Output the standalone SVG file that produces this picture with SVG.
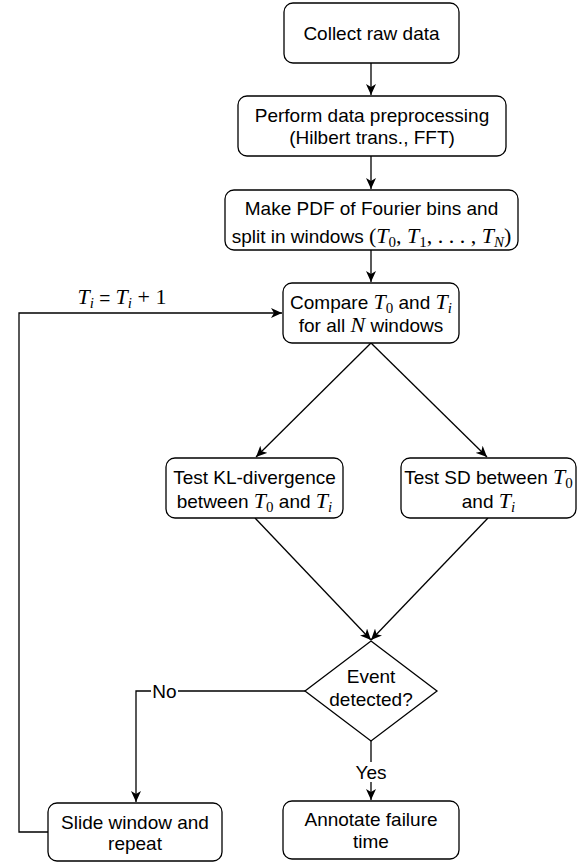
<svg xmlns="http://www.w3.org/2000/svg" width="584" height="863" viewBox="0 0 584 863">
<defs>
<style>
.box{fill:#fff;stroke:#000;stroke-width:1.3}
.ln{fill:none;stroke:#000;stroke-width:1.3}
.t{font-family:"Liberation Sans",Arial,sans-serif;font-size:19px;fill:#000}
.m{font-family:"Liberation Serif","Times New Roman",serif;font-style:italic;font-size:22px}
.mu{font-family:"Liberation Serif","Times New Roman",serif;font-style:normal;font-size:22px}
.s{font-family:"Liberation Serif","Times New Roman",serif;font-style:normal;font-size:15px}
.si{font-family:"Liberation Serif","Times New Roman",serif;font-style:italic;font-size:15px}
.lbl{fill:#fff;stroke:none}
</style>
<marker id="arr" markerUnits="userSpaceOnUse" markerWidth="12" markerHeight="10" viewBox="0 0 12 10" refX="11" refY="5" orient="auto">
<path d="M0,0 L11,5 L0,10 L3,5 Z" fill="#000"/>
</marker>
</defs>
<rect width="584" height="863" fill="#fff"/>

<g id="connectors">
<path class="ln" d="M371,63 L371,95" marker-end="url(#arr)"/>
<path class="ln" d="M371,156 L371,189" marker-end="url(#arr)"/>
<path class="ln" d="M371,250 L371,282" marker-end="url(#arr)"/>
<path class="ln" d="M371,343 L256,457" marker-end="url(#arr)"/>
<path class="ln" d="M371,343 L487,457" marker-end="url(#arr)"/>
<path class="ln" d="M255,518 L371,640" marker-end="url(#arr)"/>
<path class="ln" d="M488,518 L371,640" marker-end="url(#arr)"/>
<path class="ln" d="M305,691 L136,691 L136,802" marker-end="url(#arr)"/>
<path class="ln" d="M371,741 L371,800" marker-end="url(#arr)"/>
<path class="ln" d="M48,832 L19,832 L19,313 L282,313" marker-end="url(#arr)"/>
<rect class="lbl" x="151" y="681" width="27" height="20"/>
<text class="t" x="164.5" y="697.5" text-anchor="middle">No</text>
<rect class="lbl" x="353" y="762" width="36" height="20"/>
<text class="t" x="371" y="778.5" text-anchor="middle">Yes</text>
<text class="t" x="122" y="304" text-anchor="middle"><tspan class="m">T</tspan><tspan class="si" dy="4">i</tspan><tspan dy="-4"> = </tspan><tspan class="m">T</tspan><tspan class="si" dy="4">i</tspan><tspan class="mu" dy="-4"> + 1</tspan></text>
</g>

<g id="collect">
<rect class="box" x="284" y="3" width="175" height="60" rx="9"/>
<text class="t" x="371.5" y="39.5" text-anchor="middle">Collect raw data</text>
</g>

<g id="preprocess">
<rect class="box" x="238" y="96" width="268" height="60" rx="9"/>
<text class="t" x="372" y="121.5" text-anchor="middle">Perform data preprocessing</text>
<text class="t" x="372" y="143.5" text-anchor="middle">(Hilbert trans., FFT)</text>
</g>

<g id="pdf">
<rect class="box" x="225" y="190" width="293" height="60" rx="9"/>
<text class="t" x="371.5" y="214.5" text-anchor="middle">Make PDF of Fourier bins and</text>
<text class="t" x="371.5" y="243" text-anchor="middle">split in windows <tspan class="mu">(</tspan><tspan class="m">T</tspan><tspan class="s" dy="4">0</tspan><tspan class="mu" dy="-4">, </tspan><tspan class="m">T</tspan><tspan class="s" dy="4">1</tspan><tspan class="mu" dy="-4">, . . . , </tspan><tspan class="m">T</tspan><tspan class="si" dy="4">N</tspan><tspan class="mu" dy="-4">)</tspan></text>
</g>

<g id="compare">
<rect class="box" x="283" y="283" width="176" height="60" rx="9"/>
<text class="t" x="371" y="309" text-anchor="middle">Compare <tspan class="m">T</tspan><tspan class="s" dy="4">0</tspan><tspan dy="-4"> and </tspan><tspan class="m">T</tspan><tspan class="si" dy="4">i</tspan></text>
<text class="t" x="371" y="332" text-anchor="middle">for all <tspan class="m">N</tspan> windows</text>
</g>

<g id="kl">
<rect class="box" x="166" y="458" width="177" height="60" rx="9"/>
<text class="t" x="254.5" y="484" text-anchor="middle">Test KL-divergence</text>
<text class="t" x="254.5" y="508" text-anchor="middle">between <tspan class="m">T</tspan><tspan class="s" dy="4">0</tspan><tspan dy="-4"> and </tspan><tspan class="m">T</tspan><tspan class="si" dy="4">i</tspan></text>
</g>

<g id="sd">
<rect class="box" x="401" y="458" width="175" height="60" rx="9"/>
<text class="t" x="488.5" y="484" text-anchor="middle">Test SD between <tspan class="m">T</tspan><tspan class="s" dy="4">0</tspan></text>
<text class="t" x="488.5" y="508" text-anchor="middle">and <tspan class="m">T</tspan><tspan class="si" dy="4">i</tspan></text>
</g>

<g id="decision">
<path class="box" d="M371,641 L437,691 L371,741 L305,691 Z"/>
<text class="t" x="371" y="682.5" text-anchor="middle">Event</text>
<text class="t" x="371" y="705.5" text-anchor="middle">detected?</text>
</g>

<g id="slide">
<rect class="box" x="48" y="803" width="174" height="58" rx="9"/>
<text class="t" x="135" y="828.5" text-anchor="middle">Slide window and</text>
<text class="t" x="135" y="850" text-anchor="middle">repeat</text>
</g>

<g id="annotate">
<rect class="box" x="283" y="801" width="176" height="58" rx="9"/>
<text class="t" x="371" y="825.5" text-anchor="middle">Annotate failure</text>
<text class="t" x="371" y="848" text-anchor="middle">time</text>
</g>
</svg>
